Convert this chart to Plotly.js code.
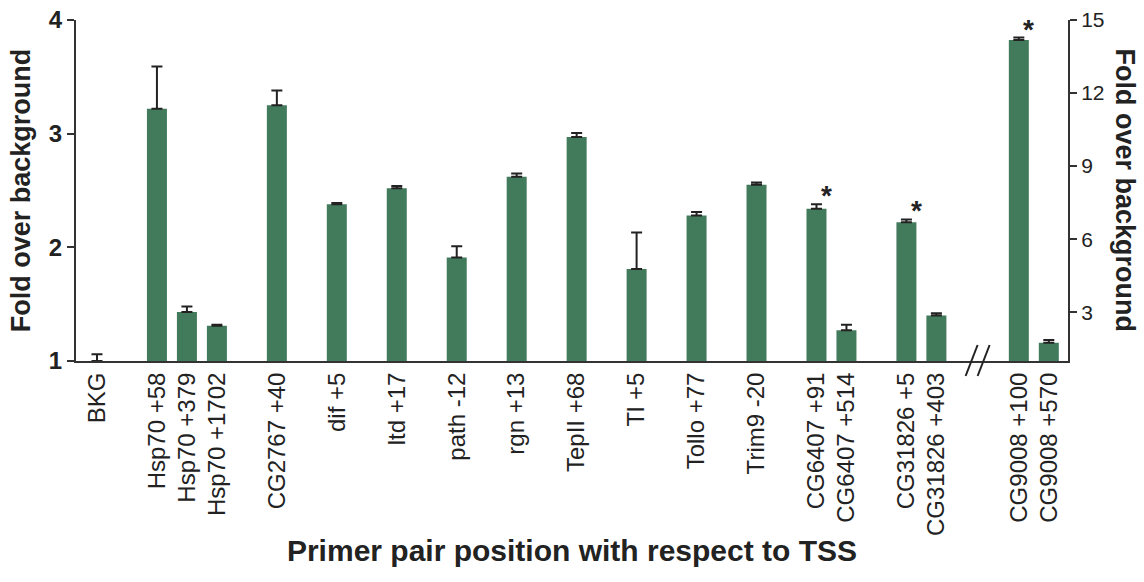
<!DOCTYPE html>
<html>
<head>
<meta charset="utf-8">
<script src="https://cdn.plot.ly/plotly-3.0.1.min.js"></script>
<style>
  html, body { margin: 0; padding: 0; background: #ffffff; }
  #chart { width: 1144px; height: 582px; }
</style>
</head>
<body>
<div id="chart"></div>
<script>
// Primer pairs, grouped by gene; each group is separated by one empty slot.
const leftGroups = [
  ["BKG"],
  ["Hsp70 +58", "Hsp70 +379", "Hsp70 +1702"],
  ["CG2767 +40"],
  ["dif +5"],
  ["ltd +17"],
  ["path -12"],
  ["rgn +13"],
  ["TepII +68"],
  ["Tl +5"],
  ["Tollo +77"],
  ["Trim9 -20"],
  ["CG6407 +91", "CG6407 +514"],
  ["CG31826 +5", "CG31826 +403"]
];
// Fold enrichment over background (left axis) and upper error
const leftFold = [1.00, 3.22, 1.43, 1.31, 3.25, 2.38, 2.52, 1.91, 2.62, 2.97, 1.81, 2.28, 2.55, 2.34, 1.27, 2.22, 1.40];
const leftErr  = [0.06, 0.37, 0.05, 0.01, 0.13, 0.01, 0.02, 0.10, 0.03, 0.035, 0.32, 0.03, 0.02, 0.04, 0.05, 0.025, 0.02];

// CG9008 pair, plotted after the axis break on the right-hand scale
const rightGroup = ["CG9008 +100", "CG9008 +570"];
const rightFold  = [14.18, 1.75];
const rightErr   = [0.10, 0.11];

// Primer pairs marked as significant
const significant = ["CG6407 +91", "CG31826 +5", "CG9008 +100"];

const leftTicks  = [1, 2, 3, 4];
const rightTicks = [3, 6, 9, 12, 15];

// ---- slot positions along the x axis ----
const GROUP_GAP = 1;
const BREAK_GAP = 1.75;
const leftX = [], leftLabels = [];
let slot = 0;
leftGroups.forEach((g, gi) => {
  if (gi > 0) slot += GROUP_GAP;
  g.forEach(name => { leftX.push(slot); leftLabels.push(name); slot += 1; });
});
slot += BREAK_GAP - 1 + GROUP_GAP;
const rightX = rightGroup.map((_, i) => slot + i);
const breakX = (leftX[leftX.length - 1] + rightX[0]) / 2;

const X_RANGE = [-0.70, 32.39];
const GREEN = "#427a5c";
const INK = "#222222";
const BAR_W = 0.667;
const FONT = "Liberation Sans, Arial, Helvetica, sans-serif";

const errStyle = { type: "data", symmetric: false, color: INK, thickness: 2, width: 5.5 };

const traces = [
  {
    type: "bar", x: leftX, y: leftFold, width: BAR_W, yaxis: "y",
    marker: { color: GREEN, line: { width: 0 } },
    error_y: Object.assign({ array: leftErr, arrayminus: leftErr.map(() => 0) }, errStyle),
    hoverinfo: "skip"
  },
  {
    type: "bar", x: rightX, y: rightFold, width: BAR_W, yaxis: "y2",
    marker: { color: GREEN, line: { width: 0 } },
    error_y: Object.assign({ array: rightErr, arrayminus: rightErr.map(() => 0) }, errStyle),
    hoverinfo: "skip"
  }
];

// Asterisks above significant bars
const annotations = [];
significant.forEach(name => {
  let i = leftLabels.indexOf(name);
  if (i >= 0) {
    annotations.push({ x: leftX[i], y: leftFold[i] + leftErr[i], xref: "x", yref: "y" });
  } else {
    i = rightGroup.indexOf(name);
    annotations.push({ x: rightX[i], y: rightFold[i] + rightErr[i], xref: "x", yref: "y2" });
  }
});
annotations.forEach(a => Object.assign(a, {
  text: "*", showarrow: false, xanchor: "center", yanchor: "bottom",
  xshift: 10, yshift: -9, font: { family: FONT, size: 28, color: INK, weight: "bold" }
}));

// Right-hand axis title reads top to bottom
annotations.push({
  text: "Fold over background", textangle: 90, showarrow: false,
  xref: "paper", yref: "paper", x: 1, y: 0.5, xanchor: "center", yanchor: "middle",
  xshift: 57, font: { family: FONT, size: 27, color: INK, weight: "bold" }
});

// "//" break marks straddling the x axis (paper-referenced so they are not clipped)
const breakPaper = (breakX - X_RANGE[0]) / (X_RANGE[1] - X_RANGE[0]);
const shapes = [[-12, 0], [0, 12]].map(([a, b]) => ({
  type: "line", xref: "paper", yref: "paper",
  xsizemode: "pixel", xanchor: breakPaper, ysizemode: "pixel", yanchor: 0,
  x0: a, x1: b, y0: -15, y1: 16,
  line: { color: INK, width: 2 }
}));

const axisLine = { showline: true, linecolor: "#333333", linewidth: 2, showgrid: false, zeroline: false, fixedrange: true };

const layout = {
  width: 1144, height: 582,
  margin: { l: 76, r: 76, t: 20, b: 221, pad: 0 },
  paper_bgcolor: "#ffffff", plot_bgcolor: "#ffffff",
  showlegend: false, barmode: "overlay",
  font: { family: FONT, color: INK },
  xaxis: Object.assign({}, axisLine, {
    range: X_RANGE,
    tickmode: "array", tickvals: leftX.concat(rightX), ticktext: leftLabels.concat(rightGroup),
    tickangle: -90, ticks: "", tickfont: { family: FONT, size: 24, color: INK },
    title: { text: "Primer pair position with respect to TSS", standoff: 5,
             font: { family: FONT, size: 30, color: INK, weight: "bold" } }
  }),
  yaxis: Object.assign({}, axisLine, {
    range: [1, 4], tickmode: "array", tickvals: leftTicks,
    ticks: "outside", ticklen: 7, tickwidth: 2, tickcolor: "#333333",
    tickfont: { family: FONT, size: 24, color: INK, weight: "bold" },
    title: { text: "Fold over background", standoff: 10,
             font: { family: FONT, size: 27, color: INK, weight: "bold" } }
  }),
  yaxis2: Object.assign({}, axisLine, {
    overlaying: "y", side: "right", anchor: "x",
    range: [1, 15], tickmode: "array", tickvals: rightTicks,
    ticks: "outside", ticklen: 7, tickwidth: 2, tickcolor: "#333333",
    tickfont: { family: FONT, size: 21, color: INK }
  }),
  annotations: annotations,
  shapes: shapes
};

Plotly.newPlot("chart", traces, layout, { displayModeBar: false, staticPlot: true });
</script>
</body>
</html>
